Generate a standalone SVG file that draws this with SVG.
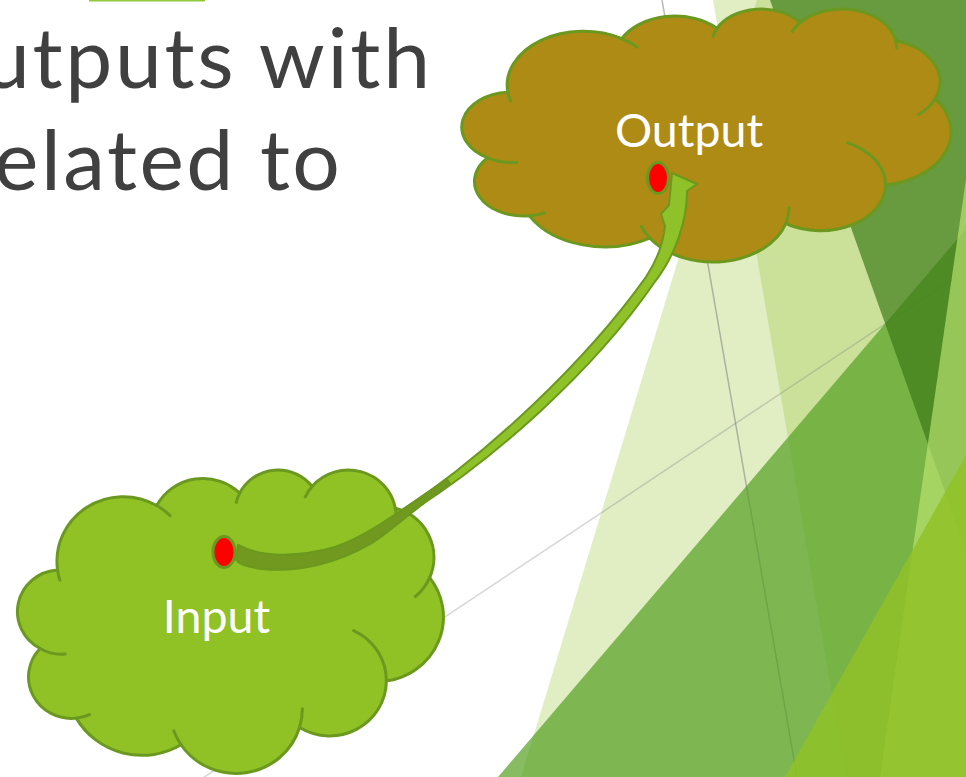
<svg xmlns="http://www.w3.org/2000/svg" xmlns:xlink="http://www.w3.org/1999/xlink" width="966" height="777" viewBox="0 0 966 777">
<style>
.title{font-family:Lato,"Open Sans","DejaVu Sans",sans-serif;font-size:84px;fill:#404040}
.label{font-family:Lato,"Open Sans","DejaVu Sans",sans-serif;font-size:46.5px;fill:#ffffff;text-anchor:middle}
.cl{stroke:#6b981e;stroke-width:3;stroke-linejoin:round}
.cr{fill:none;stroke:#6b981e;stroke-width:3;stroke-linecap:round}
.gl{stroke:#7f7f7f;fill:none}
.dot{fill:#ff0000;stroke:#6b981e;stroke-width:3}
</style>
<defs>
<path id="cloud" vector-effect="non-scaling-stroke" d="M3900 14370 A6753 9190 0 0 1 14005 5202 A5333 7267 0 0 1 22457 3430 A4365 5945 0 0 1 29835 2479 A4857 6595 0 0 1 38320 5574 A5333 7273 0 0 1 41821 15458 A6775 9220 0 0 1 37406 30200 A5785 7867 0 0 1 28558 36811 A6752 9215 0 0 1 16483 39264 A7720 10543 0 0 1 5807 35472 A4360 5918 0 0 1 2114 25552 A4345 5945 0 0 1 3900 14370 Z"/>
<path id="creases" vector-effect="non-scaling-stroke" d="M4133 15818 A6753 9190 0 0 1 3900 14370 M14005 5202 A6753 9190 0 0 1 15366 6633 M22110 4746 A4365 5945 0 0 1 22457 3430 M29138 3956 A4857 6595 0 0 1 29835 2479 M38320 5574 A4857 6595 0 0 1 38397 6743 M41821 15458 A5333 7273 0 0 1 40347 18162 M34066 23007 A5785 7867 0 0 1 37406 30200 M28848 34141 A6752 9215 0 0 1 28558 36811 M16483 39264 A6752 9215 0 0 1 15751 37293 M7142 34958 A4360 5918 0 0 1 5807 35472 M4689 26345 A4345 5945 0 0 1 2114 25552"/>
</defs>
<rect width="966" height="777" fill="#ffffff"/>
<g id="background">
<polygon points="713,0 966,0 966,777 846,777" fill="#90c226" fill-opacity="0.27"/>
<polygon points="757,0 966,0 966,777 521,777" fill="#90c226" fill-opacity="0.27"/>
<line class="gl" x1="662" y1="0" x2="797" y2="777" stroke-opacity="0.55" stroke-width="1.5"/>
<line class="gl" x1="200" y1="780" x2="966" y2="270" stroke-opacity="0.32" stroke-width="1.5"/>
<polygon points="498,777 966,229 966,777" fill="#54a021" fill-opacity="0.7"/>
<polygon points="770,0 966,0 966,551" fill="#3c7917" fill-opacity="0.69"/>
<polygon points="966,179 880,777 966,777" fill="#bfe773" fill-opacity="0.65"/>
<polygon points="785,777 966,455 966,777" fill="#90c226" fill-opacity="0.82"/>
</g>
<g id="title">
<rect x="89" y="0" width="116" height="1.5" fill="#92c83e"/>
<text class="title" x="-17" y="88" textLength="447" lengthAdjust="spacing">utputs with</text>
<text class="title" x="-6" y="190" textLength="346" lengthAdjust="spacing">elated to</text>
</g>
<g id="input">
<use xlink:href="#cloud" class="cl" fill="#90c226" transform="translate(19.3,469) scale(0.009813,0.007023)"/>
<use xlink:href="#creases" class="cr" transform="translate(19.3,469) scale(0.009813,0.007023)"/>
<text class="label" x="216.5" y="633">Input</text>
</g>
<g id="output">
<use xlink:href="#cloud" class="cl" fill="#ae8b15" transform="translate(463.9,8.2) scale(0.01127,0.005854)"/>
<use xlink:href="#creases" class="cr" transform="translate(463.9,8.2) scale(0.01127,0.005854)"/>
<text class="label" x="689" y="147">Output</text>
</g>
<g id="connectors">
<path d="M398.5,512.7 C487,455 586,361 645.9,277.1 C656,262 663,245 665,226 L661,214 L669,205 L672,173 L697,184 L687,191 C687,220 676,255 654,283 C595,369 493,462 401.5,517.3 Z" fill="#8fc228" stroke="#6b981e" stroke-width="2" stroke-linejoin="miter"/>
<path d="M238,545 C262,558 300,557 335,547 C362,538 382,524 447,479 L450,484 C410,512 390,532 372,543 C340,562 300,573 262,569 C248,567 240,565 236,560 Z" fill="#71991f" stroke="#6b981e" stroke-width="2" stroke-linejoin="round"/>
<ellipse class="dot" cx="658" cy="178" rx="10.5" ry="15.5"/>
<ellipse class="dot" cx="224" cy="552" rx="11" ry="15.5"/>
</g>
</svg>
